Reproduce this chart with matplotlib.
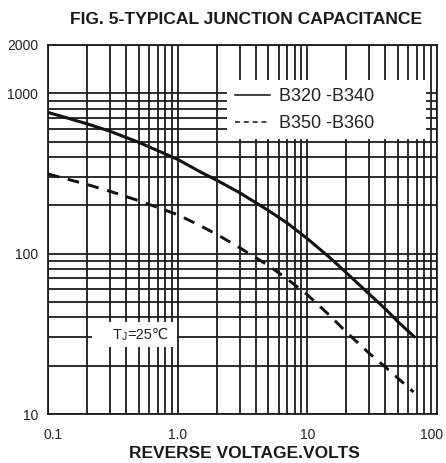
import matplotlib
matplotlib.use("Agg")
import matplotlib.pyplot as plt
from matplotlib.patches import Rectangle
from matplotlib.lines import Line2D
from matplotlib.ticker import FixedLocator, FixedFormatter, NullFormatter
from matplotlib.transforms import ScaledTranslation

plt.rcParams['font.family'] = ['Liberation Sans', 'DejaVu Sans']

# ---- data ----
volts_a = [0.1, 0.2, 0.3, 0.5, 1.0, 1.5, 2.0, 3.0, 5.0, 7.0, 10, 15, 20, 30, 40, 50, 68]
cap_a = [760, 645, 580, 495, 387, 323, 287, 240, 186, 155, 124, 94, 76, 56, 45.2, 37.6, 29.9]

volts_b = [0.1, 0.2, 0.3, 0.5, 1.0, 1.5, 2.0, 3.0, 5.0, 7.0, 10, 15, 20, 30, 40, 50, 66]
cap_b = [314, 270, 245, 214, 175, 149, 132, 109, 84.4, 69.5, 55.4, 40.9, 32.4, 23.9, 19.6, 16.7, 13.7]

label_a = "B320 -B340"
label_b = "B350 -B360"

x_ticks = [0.1, 1.0, 10, 100]
x_tick_labels = ["0.1", "1.0", "10", "100"]
y_ticks = [10, 100, 1000, 2000]
y_tick_labels = ["10", "100", "1000", "2000"]

title = "FIG. 5-TYPICAL JUNCTION CAPACITANCE"
xlabel = "REVERSE VOLTAGE.VOLTS"
note_main = "T"
note_sub = "J"
note_rest = "=25\u2103"

W, H = 446, 463
fig = plt.figure(figsize=(W / 100, H / 100), dpi=100)
L, R, T, B = 48, 437, 45, 414
ax = fig.add_axes([L / W, 1 - B / H, (R - L) / W, (B - T) / H])

ax.set_xscale('log')
ax.set_yscale('log')
ax.set_xlim(0.1, 100)
ax.set_ylim(10, 2000)

gc = '#1c1c1c'
ax.set_axisbelow(True)
ax.grid(which='both', color=gc, linewidth=1.3)
for s in ax.spines.values():
    s.set_linewidth(1.3)
    s.set_color(gc)

ax.xaxis.set_major_locator(FixedLocator(x_ticks))
ax.xaxis.set_major_formatter(FixedFormatter(x_tick_labels))
ax.yaxis.set_major_locator(FixedLocator(y_ticks))
ax.yaxis.set_major_formatter(FixedFormatter(y_tick_labels))
ax.xaxis.set_minor_formatter(NullFormatter())
ax.yaxis.set_minor_formatter(NullFormatter())
ax.tick_params(which='both', length=0)
ax.tick_params(axis='x', pad=10, labelsize=10, colors='#222222')
ax.tick_params(axis='y', pad=7, labelsize=10, colors='#222222')

# nudge the end x labels inward like the reference
fig.canvas.draw()
xlabels = ax.get_xticklabels()
xlabels[0].set_transform(xlabels[0].get_transform() + ScaledTranslation(5 / 100, 0, fig.dpi_scale_trans))
xlabels[-1].set_transform(xlabels[-1].get_transform() + ScaledTranslation(-5 / 100, 0, fig.dpi_scale_trans))

lc = '#111111'
ax.plot(volts_a, cap_a, color=lc, linewidth=2.2, zorder=3,
        solid_capstyle='butt', solid_joinstyle='round')
ax.plot(volts_b, cap_b, color=lc, linewidth=2.1, dashes=(4, 3), zorder=3,
        dash_capstyle='butt')

# white legend panel and note panel
ax.add_patch(Rectangle((0.46, 0.745), 0.512, 0.16, transform=ax.transAxes,
                       facecolor='white', edgecolor='none', zorder=1.5))
ax.add_patch(Rectangle((0.113, 0.181), 0.219, 0.067, transform=ax.transAxes,
                       facecolor='white', edgecolor='none', zorder=1.5))

handles = [Line2D([], [], color=lc, linewidth=1.1),
           Line2D([], [], color=lc, linewidth=1.1, dashes=(3.2, 2.6))]
leg = ax.legend(handles, [label_a, label_b], loc='center left',
                bbox_to_anchor=(0.481, 0.823), borderaxespad=0, borderpad=0,
                handlelength=1.95, handletextpad=0.5, labelspacing=0.55,
                fontsize=13, frameon=False)
leg.set_zorder(4)
for t in leg.get_texts():
    t.set_color('#222222')

tc = '#222222'
t1 = ax.text(0.165, 0.214, note_main, transform=ax.transAxes, ha='left', va='center',
             fontsize=10.5, color=tc, zorder=4)
t2 = ax.annotate(note_sub, xy=(1, 0), xycoords=t1, xytext=(0.3, 0.2),
                 textcoords='offset points', ha='left', va='bottom',
                 fontsize=7.5, color=tc, zorder=4)
t3 = ax.annotate(note_rest, xy=(1, 0), xycoords=(t2, t1), xytext=(0.3, 0),
                 textcoords='offset points', ha='left', va='bottom',
                 fontsize=10.5, color=tc, zorder=4)

fig.text(246.5 / W, 1 - 20 / H, title, ha='center', va='center',
         fontsize=12.6, fontweight='bold', color='#1a1a1a')
fig.text(244.5 / W, 1 - 453 / H, xlabel, ha='center', va='center',
         fontsize=12.5, fontweight='bold', color='#1a1a1a')

fig.savefig('out.png', dpi=100)
